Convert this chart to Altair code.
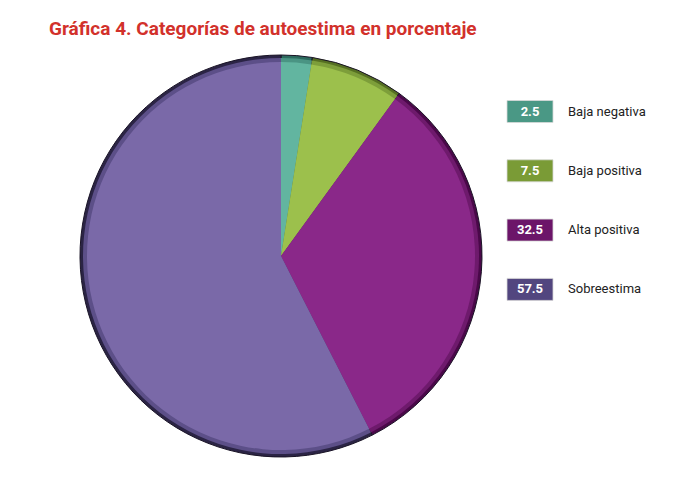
import altair as alt
import pandas as pd

title_text = "Gráfica 4. Categorías de autoestima en porcentaje"
categories = ["Baja negativa", "Baja positiva", "Alta positiva", "Sobreestima"]
values = [2.5, 7.5, 32.5, 57.5]
value_labels = ["2.5", "7.5", "32.5", "57.5"]
main_colors = ["#62b5a0", "#9cc04c", "#8a2889", "#7a69a8"]
mid_colors = ["#4a9483", "#7d9e3a", "#6e1a6c", "#5c4f88"]
dark_colors = ["#2c6a5e", "#556f22", "#4a0849", "#2b2445"]
box_colors = ["#4a9885", "#7a9b36", "#6c1569", "#52467f"]

df = pd.DataFrame({
    "cat": categories,
    "val": values,
    "lab": value_labels,
    "idx": list(range(len(categories))),
    "main": main_colors,
    "mid": mid_colors,
    "dark": dark_colors,
    "box": box_colors,
})

CX, CY, R = 273, 248, 201

base = alt.Chart(df)


def pie_layer(col, radius, stroke=None, sw=0):
    kw = dict(outerRadius=radius)
    if stroke:
        kw.update(stroke=stroke, strokeWidth=sw)
    return base.mark_arc(**kw).encode(
        theta=alt.Theta("val:Q", stack=True),
        order=alt.Order("idx:Q"),
        color=alt.Color(f"{col}:N", scale=None),
        x=alt.value(CX),
        y=alt.value(CY),
    )


pie = (
    pie_layer("dark", R, stroke="#1a1426", sw=1)
    + pie_layer("mid", R - 3)
    + pie_layer("main", R - 7)
)

yscale = alt.Scale(domain=categories, range=[92.5, 292.4], paddingInner=0.629, paddingOuter=0)

boxes = base.mark_rect(stroke="#d8d8d8", strokeWidth=0.8).encode(
    y=alt.Y("cat:N", scale=yscale, axis=None),
    x=alt.value(499),
    x2=alt.value(545),
    color=alt.Color("box:N", scale=None),
)

box_text = base.mark_text(
    font="Roboto", fontWeight="bold", fontSize=13, color="white", align="center", baseline="middle"
).encode(
    y=alt.Y("cat:N", scale=yscale, axis=None),
    x=alt.value(522),
    text="lab:N",
)

labels = base.mark_text(
    font="Roboto", fontSize=13, color="#222222", align="left", baseline="middle"
).encode(
    y=alt.Y("cat:N", scale=yscale, axis=None),
    x=alt.value(560),
    text="cat:N",
)

title = alt.Chart(pd.DataFrame({"t": [title_text]})).mark_text(
    font="Roboto", fontWeight="bold", fontSize=19, color="#d2312b", align="left", baseline="alphabetic"
).encode(
    text="t:N",
    x=alt.value(41),
    y=alt.value(27),
)

chart = (
    alt.layer(pie, boxes, box_text, labels, title)
    .properties(width=674, height=462, autosize=alt.AutoSizeParams(type="none"), padding=0)
    .configure_view(stroke=None)
)

chart.save("out.html", embed_options={"renderer": "svg", "actions": False})
